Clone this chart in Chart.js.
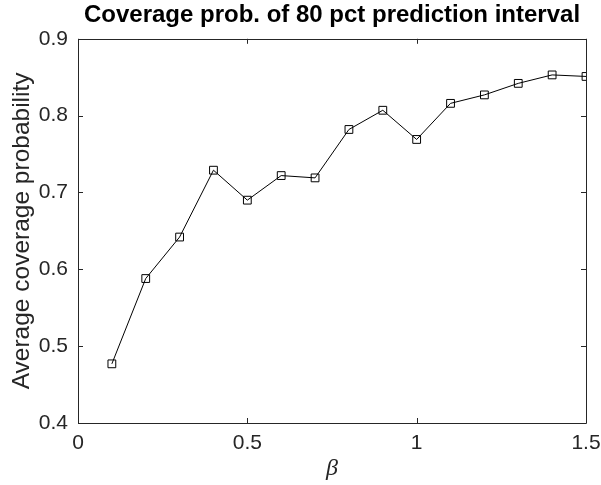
<!DOCTYPE html>
<html>
<head>
<meta charset="utf-8">
<script src="https://cdn.jsdelivr.net/npm/chart.js@4/dist/chart.umd.min.js"></script>
<style>
  body { margin: 0; background: #fff; }
  canvas { display: block; }
</style>
</head>
<body>
<canvas id="cov" width="601" height="485"></canvas>
<script>
const beta = [0.1, 0.2, 0.3, 0.4, 0.5, 0.6, 0.7, 0.8, 0.9, 1.0, 1.1, 1.2, 1.3, 1.4, 1.5];
const coverage = [0.477, 0.588, 0.642, 0.729, 0.690, 0.722, 0.719, 0.782, 0.807, 0.769, 0.816, 0.827, 0.842, 0.853, 0.851];
const xTicks = [0, 0.5, 1, 1.5];
const yTicks = [0.4, 0.5, 0.6, 0.7, 0.8, 0.9];

const AXIS_COLOR = '#262626';
const SANS = '"Liberation Sans", Arial, Helvetica, sans-serif';

// box around the axes with inward ticks on all four sides
const boxPlugin = {
    id: 'box',
    afterDatasetsDraw(chart) {
        const { ctx, chartArea: a, scales } = chart;
        const len = 5;
        ctx.save();
        ctx.strokeStyle = AXIS_COLOR;
        ctx.lineWidth = 1;
        ctx.beginPath();
        ctx.rect(Math.round(a.left) + 0.5, Math.round(a.top) + 0.5,
            Math.round(a.right - a.left), Math.round(a.bottom - a.top));
        for (const v of xTicks) {
            const x = Math.round(scales.x.getPixelForValue(v)) + 0.5;
            ctx.moveTo(x, a.bottom); ctx.lineTo(x, a.bottom - len);
            ctx.moveTo(x, a.top); ctx.lineTo(x, a.top + len);
        }
        for (const v of yTicks) {
            const y = Math.round(scales.y.getPixelForValue(v)) + 0.5;
            ctx.moveTo(a.left, y); ctx.lineTo(a.left + len, y);
            ctx.moveTo(a.right, y); ctx.lineTo(a.right - len, y);
        }
        ctx.stroke();
        ctx.restore();
    }
};

// keep tick-label overflow from shrinking the plot area
function noOverflow(s) {
    s.paddingLeft = 0;
    s.paddingRight = 0;
    s.paddingTop = 0;
    s.paddingBottom = 0;
}

new Chart(document.getElementById('cov').getContext('2d'), {
    type: 'line',
    data: {
        datasets: [{
            data: beta.map((b, i) => ({ x: b, y: coverage[i] })),
            borderColor: '#000',
            borderWidth: 1,
            tension: 0,
            pointStyle: 'rect',
            pointRadius: 5.5,
            pointBorderColor: '#000',
            pointBackgroundColor: 'rgba(0,0,0,0)',
            pointBorderWidth: 1
        }]
    },
    options: {
        responsive: false,
        animation: false,
        devicePixelRatio: 1,
        layout: { padding: { left: 0, right: 15, top: 0, bottom: 0 } },
        plugins: {
            legend: { display: false },
            tooltip: { enabled: false },
            title: {
                display: true,
                fullSize: false,
                text: 'Coverage prob. of 80 pct prediction interval',
                color: '#000',
                font: { family: SANS, size: 24, weight: 'bold' },
                padding: { top: 1, bottom: 9 }
            }
        },
        scales: {
            x: {
                type: 'linear',
                min: 0,
                max: 1.5,
                afterBuildTicks: s => { s.ticks = xTicks.map(v => ({ value: v })); },
                afterFit: s => { s.height = 62; noOverflow(s); },
                grid: { display: false, drawTicks: false },
                border: { display: false },
                ticks: {
                    color: AXIS_COLOR,
                    font: { family: SANS, size: 21 },
                    padding: 8,
                    maxRotation: 0,
                    callback: v => String(v)
                },
                title: {
                    display: true,
                    text: 'β',
                    color: AXIS_COLOR,
                    font: { family: '"Liberation Serif", "Times New Roman", serif', size: 24, style: 'italic' },
                    padding: { top: 0, bottom: 2 }
                }
            },
            y: {
                min: 0.4,
                max: 0.9,
                afterBuildTicks: s => { s.ticks = yTicks.map(v => ({ value: v })); },
                afterFit: s => { s.width = 78; noOverflow(s); },
                grid: { display: false, drawTicks: false },
                border: { display: false },
                ticks: {
                    color: AXIS_COLOR,
                    font: { family: SANS, size: 21 },
                    padding: 10,
                    callback: v => String(v)
                },
                title: {
                    display: true,
                    text: 'Average coverage probability',
                    color: AXIS_COLOR,
                    font: { family: SANS, size: 24.5 },
                    padding: { top: 8, bottom: 0 }
                }
            }
        }
    },
    plugins: [boxPlugin]
});
</script>
</body>
</html>
